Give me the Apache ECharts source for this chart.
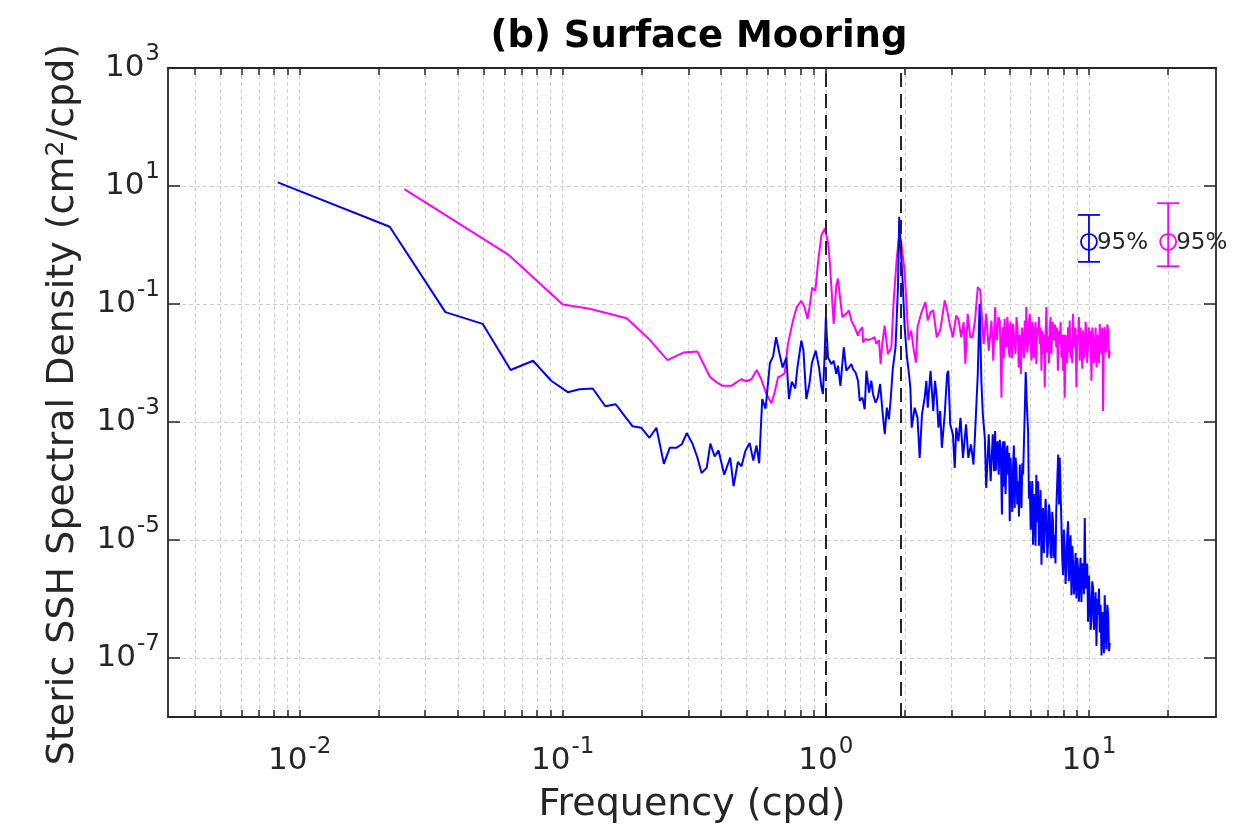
<!DOCTYPE html>
<html>
<head>
<meta charset="utf-8">
<script src="https://cdn.jsdelivr.net/npm/echarts@6/dist/echarts.min.js"></script>
<style>html,body{margin:0;padding:0;background:#fff;}#c{width:1235px;height:836px;}</style>
</head>
<body>
<div id="c"></div>
<script>
// ---------------- data ----------------
const titleText = '(b) Surface Mooring';
const xAxisName = 'Frequency (cpd)';
const xTickValues = [0.004,0.005,0.006,0.007,0.008,0.009,0.01,0.02,0.03,0.04,0.05,0.06,0.07,0.08,0.09,0.1,0.2,0.3,0.4,0.5,0.6,0.7,0.8,0.9,1,2,3,4,5,6,7,8,9,10,20];
const xLabelValues = [0.01, 0.1, 1, 10];
const yTickValues = [1e-7, 1e-5, 1e-3, 1e-1, 1e1, 1e3];
const tidalFreqs = [1.0, 1.932];

// blue spectrum [frequency (cpd), density]
const blueSpectrum = [
[0.00826,11.5],[0.0220,2.04],[0.0358,0.0728],[0.0496,0.0461],[0.0634,0.0076],[0.0771,0.0109],[0.0904,0.0050],[0.1045,0.0032],
[0.1157,0.0036],[0.1300,0.0037],[0.1452,0.00185],[0.1590,0.0020],[0.1735,0.0012],[0.1840,0.00085],[0.1986,0.0008],[0.2136,0.00054],
[0.2270,0.0008],[0.2423,0.000195],[0.2550,0.000365],[0.2700,0.000365],[0.2836,0.00042],[0.2960,0.00065],[0.3112,0.00043],[0.3249,0.00025],
[0.3370,0.000137],[0.3525,0.000167],[0.3640,0.00043],[0.3780,0.00026],[0.3910,0.00033],[0.4110,0.000128],[0.4330,0.00025],[0.4460,0.0000815],
[0.4630,0.00021],[0.4780,0.000178],[0.4940,0.00032],[0.5130,0.00044],[0.5300,0.000222],[0.5450,0.0004],[0.5580,0.0002],[0.5730,0.00244],
[0.5900,0.00168],[0.6004,0.00164],[0.6130,0.0100],[0.6300,0.0128],[0.6470,0.0273],[0.6670,0.0142],[0.6850,0.0084],[0.7080,0.0124],
[0.7240,0.00244],[0.7420,0.0048],[0.7650,0.0037],[0.7800,0.0084],[0.8070,0.024],[0.8220,0.0162],[0.8430,0.00244],[0.8660,0.0044],
[0.8850,0.0100],[0.9150,0.0162],[0.9420,0.0084],[0.9620,0.0039],[0.9750,0.0030],[0.9900,0.0142],[1.0000,0.060],[1.0190,0.0124],
[1.0490,0.0096],[1.0710,0.0109],[1.0960,0.0065],[1.1120,0.0090],[1.1360,0.0041],[1.1700,0.0184],[1.1960,0.0074],[1.2240,0.0084],
[1.2500,0.0096],[1.2680,0.0079],[1.2970,0.0069],[1.3250,0.0050],[1.3450,0.00228],[1.3770,0.00259],[1.4050,0.00164],[1.4260,0.0074],
[1.4600,0.00316],[1.4890,0.0050],[1.5110,0.00296],[1.5450,0.00213],[1.5760,0.00259],[1.6080,0.0044],[1.6430,0.00144],[1.6750,0.00062],
[1.7050,0.00175],[1.7360,0.00111],[1.7620,0.00228],[1.7960,0.0079],[1.8400,0.0184],[1.8800,0.194],[1.9000,3.0],[1.9300,0.72],
[1.9600,0.222],[1.9930,0.0404],[2.0340,0.0124],[2.0700,0.0065],[2.0950,0.00384],[2.1200,0.0008],[2.1760,0.00175],[2.2300,0.00118],
[2.2730,0.000247],[2.3200,0.00135],[2.3750,0.00259],[2.4100,0.0050],[2.4400,0.00175],[2.5000,0.0074],[2.5600,0.00154],[2.6000,0.0050],
[2.6400,0.00259],[2.6800,0.0008],[2.7200,0.00154],[2.7600,0.000365],[2.8300,0.00135],[2.8900,0.0065],[2.9200,0.0074],[2.9700,0.00091],
[3.0400,0.00062],[3.0900,0.000167],[3.1300,0.0008],[3.1900,0.00047],[3.2500,0.00118],[3.3200,0.000247],[3.4100,0.00091],[3.4800,0.000247],
[3.5600,0.000417],[3.6400,0.00019],[3.6900,0.00062],[3.7800,0.0065],[3.8400,0.1],[3.9000,0.0050],[3.9500,0.00135],[4.0200,0.00054],
[4.0700,0.000076],[4.1600,0.00062],[4.2300,0.0000988],[4.3100,0.00062],[4.3600,0.000146],[4.4000,0.0007],[4.425,0.00015],[4.4500,0.000247],
[4.4900,0.00047],[4.5400,0.000128],[4.58,0.0005],[4.6200,0.000365],[4.6700,0.000027],[4.695,0.0003],[4.7200,0.00047],[4.75,0.00008],
[4.7800,0.00047],[4.82,0.00006],[4.8600,0.00028],[4.895,0.0004],[4.9300,0.000128],[4.965,0.0003],[5.0000,0.0000207],[5.035,0.00025],
[5.0700,0.000099],[5.11,0.00003],[5.1500,0.00019],[5.185,0.0004],[5.2200,0.000035],[5.26,0.00025],[5.3000,0.000167],[5.34,0.00004],
[5.3800,0.000099],[5.42,0.000025],[5.4600,0.00019],[5.50,0.00006],[5.5400,0.000035],[5.58,0.0002],[5.6200,0.000128],[5.7000,0.00135],
[5.7500,0.0070],[5.8000,0.00228],[5.8700,0.0007],[5.915,0.00005],[5.9600,0.000099],[6.005,0.000015],[6.0500,0.000035],[6.09,0.0001],
[6.1300,0.0000083],[6.175,0.00006],[6.2200,0.000027],[6.265,0.000008],[6.3100,0.000128],[6.36,0.00002],[6.4100,0.000099],[6.455,0.000008],
[6.5000,0.0000207],[6.55,0.00007],[6.6000,0.0000038],[6.645,0.000025],[6.6900,0.000035],[6.74,0.000006],[6.7900,0.000014],[6.84,0.00005],
[6.8900,0.0000305],[6.945,0.000005],[7.0000,0.0000094],[7.05,0.00004],[7.1000,0.000027],[7.15,0.000006],[7.2000,0.0000049],[7.25,0.00003],
[7.3000,0.0000207],[7.355,0.000005],[7.4100,0.0000123],[7.46,0.000004],[7.5100,0.0000305],[7.5800,0.00003],[7.6400,0.00028],[7.7000,0.00004],
[7.7400,0.000247],[7.8600,0.0000182],[7.915,0.000005],[7.9700,0.00000255],[8.03,0.000015],[8.0900,0.0000073],[8.15,0.0000018],[8.2100,0.0000033],
[8.27,0.000012],[8.3300,0.0000207],[8.39,0.000002],[8.4500,0.0000064],[8.515,0.000012],[8.5800,0.00000116],[8.64,0.000008],[8.7000,0.0000043],
[8.765,0.0000012],[8.8300,0.00000196],[8.895,0.000006],[8.9600,0.00000102],[9.025,0.000005],[9.0900,0.0000033],[9.155,0.0000009],[9.2200,0.00000225],
[9.29,0.000005],[9.3600,0.00000089],[9.43,0.000004],[9.5000,0.0000033],[9.57,0.0000012],[9.6400,0.0000236],[9.71,0.0000015],[9.7800,0.00000196],
[9.85,0.000004],[9.9200,0.00000041],[10.0,0.0000025],[10.07,0.00000116],[10.145,0.0000003],[10.22,0.00000046],[10.295,0.000002],[10.37,0.0000015],
[10.445,0.0000003],[10.52,0.00000053],[10.6,0.0000013],[10.68,0.00000016],[10.76,0.000001],[10.84,0.00000053],[10.915,0.0000015],[10.99,0.00000027],
[11.075,0.0000008],[11.16,0.00000011],[11.24,0.0000006],[11.32,0.00000041],[11.40,0.00000012],[11.48,0.00000116],[11.57,0.0000003],[11.66,0.00000014],
[11.745,0.0000008],[11.83,0.00000053],[11.915,0.00000013],[12.00,0.00000018]
];

// magenta spectrum [frequency (cpd), density]
const magentaSpectrum = [
[0.025,8.85],[0.0625,0.673],[0.1,0.0984],[0.1265,0.083],[0.175,0.0575],[0.2125,0.0256],[0.25,0.0112],[0.2875,0.015],
[0.325,0.0156],[0.3625,0.0058],[0.385,0.0047],[0.405,0.0041],[0.4375,0.0041],[0.457,0.0047],[0.4774,0.0053],[0.499,0.0049],
[0.521,0.0053],[0.546,0.0076],[0.568,0.0053],[0.594,0.0030],[0.621,0.00208],[0.639,0.0032],[0.658,0.0057],[0.678,0.0061],
[0.697,0.0067],[0.718,0.0211],[0.75,0.0525],[0.775,0.0885],[0.807,0.113],[0.83,0.0885],[0.852,0.056],[0.867,0.0885],
[0.887,0.19],[0.912,0.165],[0.933,0.486],[0.962,1.47],[0.992,1.9],[1.02,1.06],[1.034,0.553],[1.071,0.046],
[1.096,0.207],[1.112,0.27],[1.128,0.15],[1.155,0.06],[1.196,0.068],[1.224,0.078],[1.25,0.0525],[1.287,0.0404],
[1.325,0.029],[1.345,0.0355],[1.377,0.0404],[1.384,0.0224],[1.416,0.0256],[1.445,0.0245],[1.489,0.0256],[1.532,0.0273],
[1.555,0.0211],[1.591,0.0245],[1.615,0.0096],[1.639,0.0211],[1.673,0.0431],[1.722,0.0142],[1.774,0.0184],[1.811,0.115],
[1.862,0.63],[1.897,1.38],[1.93,1.21],[1.993,0.35],[2.03,0.0885],[2.06,0.0245],[2.11,0.0355],[2.16,0.0162],
[2.2,0.0102],[2.23,0.0404],[2.3,0.068],[2.35,0.0885],[2.39,0.108],[2.44,0.0525],[2.5,0.073],[2.56,0.078],
[2.6,0.046],[2.64,0.0273],[2.72,0.0355],[2.83,0.115],[2.89,0.078],[2.955,0.046],[3.04,0.0273],[3.13,0.064],
[3.19,0.056],[3.27,0.0273],[3.34,0.049],[3.39,0.0096],[3.46,0.068],[3.54,0.0273],[3.61,0.0273],[3.69,0.0525],
[3.78,0.194],[3.86,0.17],[3.98,0.0211],[4.07,0.068],[4.16,0.0162],[4.26,0.0525],[4.33,0.0109],[4.40,0.0885],
[4.435,0.03],[4.47,0.0245],[4.525,0.06],[4.58,0.0525],[4.615,0.015],[4.65,0.00259],[4.685,0.03],[4.72,0.0404],
[4.75,0.012],[4.78,0.056],[4.82,0.02],[4.86,0.0184],[4.895,0.06],[4.93,0.0404],[4.965,0.015],[5.0,0.0124],
[5.035,0.05],[5.07,0.0245],[5.11,0.012],[5.15,0.046],[5.205,0.025],[5.26,0.0142],[5.305,0.06],[5.35,0.0404],
[5.38,0.02],[5.41,0.0084],[5.46,0.03],[5.51,0.0065],[5.565,0.04],[5.62,0.0211],[5.66,0.012],[5.70,0.0525],
[5.74,0.02],[5.78,0.0885],[5.825,0.015],[5.87,0.0211],[5.915,0.05],[5.96,0.068],[6.005,0.02],[6.05,0.0109],
[6.09,0.05],[6.13,0.0404],[6.175,0.012],[6.22,0.0245],[6.265,0.05],[6.31,0.0096],[6.36,0.04],[6.41,0.0316],
[6.455,0.06],[6.5,0.0211],[6.55,0.04],[6.6,0.0074],[6.645,0.035],[6.69,0.0142],[6.74,0.03],[6.79,0.00384],
[6.84,0.03],[6.89,0.0885],[6.945,0.015],[7.0,0.028],[7.05,0.01],[7.1,0.0404],[7.15,0.06],[7.2,0.0142],
[7.28,0.05],[7.36,0.0245],[7.435,0.045],[7.51,0.0184],[7.565,0.04],[7.62,0.0074],[7.68,0.035],[7.74,0.0211],
[7.8,0.05],[7.86,0.0124],[7.915,0.03],[7.97,0.0074],[8.03,0.03],[8.09,0.00259],[8.15,0.03],[8.21,0.0211],
[8.27,0.01],[8.33,0.0404],[8.39,0.015],[8.45,0.0525],[8.515,0.012],[8.58,0.0245],[8.64,0.01],[8.7,0.068],
[8.765,0.02],[8.83,0.0184],[8.895,0.04],[8.96,0.00384],[9.025,0.03],[9.09,0.0245],[9.155,0.06],[9.22,0.0109],
[9.29,0.04],[9.36,0.0211],[9.43,0.008],[9.5,0.0355],[9.57,0.012],[9.64,0.0142],[9.71,0.05],[9.78,0.0316],
[9.85,0.01],[9.92,0.0096],[10.0,0.04],[10.07,0.0211],[10.145,0.035],[10.22,0.005],[10.295,0.04],[10.37,0.028],
[10.445,0.01],[10.52,0.0162],[10.6,0.04],[10.68,0.0084],[10.76,0.03],[10.84,0.0245],[10.915,0.01],[10.99,0.046],
[11.075,0.02],[11.16,0.0142],[11.24,0.04],[11.32,0.00154],[11.40,0.03],[11.48,0.0404],[11.57,0.015],[11.66,0.0211],
[11.745,0.045],[11.83,0.0355],[11.915,0.012],[12.0,0.0162]
];

// 95% confidence bars: [frequency, center, lower, upper]
const confBars = [[10, 1.13, 0.518, 3.23], [20, 1.13, 0.436, 5.11]];
const confLabels = ['95%', '95%'];
const confColors = ['#0000ff', '#ff00ff'];

// ---------------- chart ----------------
const FONT = 'DejaVu Sans';
const TXT = '#262626';
const chart = echarts.init(document.getElementById('c'), null, {renderer: 'canvas'});

function pow10Label(v) {
  const e = Math.round(Math.log10(v));
  return '{b|10}{s|' + e + '}';
}
const labelRich = {
  b: {fontFamily: FONT, fontSize: 31, color: TXT, lineHeight: 50},
  s: {fontFamily: FONT, fontSize: 23, color: TXT, lineHeight: 18, verticalAlign: 'top', padding: [0, 0, 0, 1]}
};
const gridLine = {show: true, lineStyle: {color: '#cfcfcf', type: [4, 3], width: 1}};
const axisLine = {show: true, onZero: false, lineStyle: {color: TXT, width: 1.8}};

const xBase = {
  type: 'log', logBase: 10, min: 0.00316, max: 30.4,
  axisLine: axisLine,
  axisTick: {show: true, inside: true, length: 7, customValues: xTickValues, lineStyle: {color: TXT, width: 1.5}},
  minorTick: {show: false}, minorSplitLine: {show: false}
};
const yBase = {
  type: 'log', logBase: 10, min: 1e-8, max: 1e3,
  axisLine: axisLine,
  axisTick: {show: true, inside: true, length: 12, customValues: yTickValues, lineStyle: {color: TXT, width: 1.5}},
  minorTick: {show: false}, minorSplitLine: {show: false}
};

const option = {
  animation: false,
  backgroundColor: '#ffffff',
  title: {
    text: titleText, left: 694, top: 14, textAlign: 'center',
    textStyle: {fontFamily: FONT, fontWeight: 'bold', fontSize: 37, color: '#000'}
  },
  grid: {left: 168, right: 19, top: 68, bottom: 119, containLabel: false},
  xAxis: [
    Object.assign({}, xBase, {
      position: 'bottom',
      name: xAxisName, nameLocation: 'middle', nameGap: 69,
      nameTextStyle: {fontFamily: FONT, fontSize: 38, color: TXT},
      axisLabel: {show: true, margin: 19, customValues: xLabelValues, formatter: pow10Label, rich: labelRich},
      splitLine: gridLine
    }),
    Object.assign({}, xBase, {position: 'top', axisLabel: {show: false}, splitLine: {show: false}})
  ],
  yAxis: [
    Object.assign({}, yBase, {
      position: 'left',
      name: 'Steric SSH Spectral Density (cm{s|2}/cpd)', nameLocation: 'middle', nameGap: 86,
      nameTextStyle: {fontFamily: FONT, fontSize: 38, color: TXT, padding: [0, 24, 0, 0],
        rich: {s: {fontFamily: FONT, fontSize: 25, color: TXT, lineHeight: 22, verticalAlign: 'top'}}},
      axisLabel: {show: true, margin: 8, customValues: yTickValues, formatter: pow10Label, rich: labelRich},
      splitLine: gridLine
    }),
    Object.assign({}, yBase, {position: 'right', axisLabel: {show: false}, splitLine: {show: false}})
  ],
  series: [
    {
      name: 'mooring', type: 'line', xAxisIndex: 0, yAxisIndex: 0,
      data: blueSpectrum, showSymbol: false, symbol: 'none',
      lineStyle: {color: '#0000ff', width: 2}, z: 3,
      markLine: {
        silent: true, symbol: 'none', label: {show: false},
        lineStyle: {color: TXT, type: [14, 7], width: 2},
        data: tidalFreqs.map(f => ({xAxis: f}))
      }
    },
    {
      name: 'magenta', type: 'line', xAxisIndex: 0, yAxisIndex: 0,
      data: magentaSpectrum, showSymbol: false, symbol: 'none',
      lineStyle: {color: '#ff00ff', width: 2}, z: 2
    },
    {
      name: 'ci', type: 'custom', coordinateSystem: 'cartesian2d', xAxisIndex: 0, yAxisIndex: 0,
      data: confBars, z: 5, clip: false,
      renderItem: function (params, api) {
        const x = api.value(0);
        const pc = api.coord([x, api.value(1)]);
        const pl = api.coord([x, api.value(2)]);
        const ph = api.coord([x, api.value(3)]);
        const col = confColors[params.dataIndex];
        const st = {stroke: col, lineWidth: 1.8, fill: null};
        return {
          type: 'group',
          children: [
            {type: 'line', shape: {x1: pl[0], y1: pl[1], x2: ph[0], y2: ph[1]}, style: st},
            {type: 'line', shape: {x1: pl[0] - 11, y1: pl[1], x2: pl[0] + 11, y2: pl[1]}, style: st},
            {type: 'line', shape: {x1: ph[0] - 11, y1: ph[1], x2: ph[0] + 11, y2: ph[1]}, style: st},
            {type: 'circle', shape: {cx: pc[0], cy: pc[1], r: 8}, style: {stroke: col, lineWidth: 1.8, fill: 'rgba(0,0,0,0)'}},
            {type: 'text', style: {text: confLabels[params.dataIndex], x: pc[0] + 8, y: pc[1] + 1,
              verticalAlign: 'middle', align: 'left', fill: TXT, font: '23px "DejaVu Sans"'}}
          ]
        };
      }
    }
  ]
};
chart.setOption(option);
</script>
</body>
</html>
